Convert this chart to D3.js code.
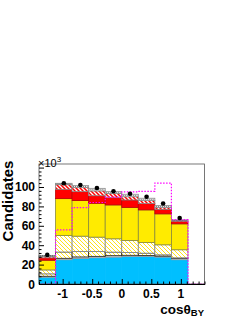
<html>
<head>
<script src="https://cdnjs.cloudflare.com/ajax/libs/d3/7.8.5/d3.min.js"></script>
<style>
  body { margin: 0; background: #fff; }
  text { font-family: "Liberation Sans", Arial, sans-serif; }
</style>
</head>
<body>
<svg width="245" height="317"></svg>
<script>
  // bin edges of cos(theta_BY), 10 bins
  const binEdges = [-1.4, -1.12, -0.84, -0.56, -0.28, 0, 0.28, 0.56, 0.84, 1.12, 1.4]
  // stacked components, units of 10^3 (bottom to top)
  const blue      = [7,   25,  26.4, 27,  27.7, 28.4, 28.4, 27.7, 25,  0]
  const grey      = [1,   1.5, 1.5,  1.5, 1.5,  1.2,  1,    1,    1.5, 0]
  const hatchLow  = [2.5, 6.5, 5.6,  5,   3.7,  2.9,  2.4,  1.4,  0.5, 0]
  const hatchHigh = [4,   17,  15.8, 14.8,13.7, 12.4, 11,   10.3, 8.3, 0]
  const yellow    = [10,  38,  36.7, 34.9,34.9, 34.1, 33.6, 31.9, 26.7,0]
  const red       = [2.5, 9.6, 9.2,  7.8, 7.5,  7.6,  6.5,  4.7,  2.7, 0]
  const redHatch  = [1.5, 4.8, 4.4,  5,   4.2,  3.4,  3.1,  2,    0.7, 0]
  const topBand   = [1,   1.4, 1.8,  2.6, 2,    2.5,  2.4,  1.8,  0.6, 0]
  const dataPts   = [30,  103.8, 102, 99, 95.6, 93,   90,   83,   68]
  const magenta   = [0,   55.7, 78.7, 84, 89.5, 95,   95.5, 104,  66.4, 0]
  const yTicks = [0, 20, 40, 60, 80, 100]
  const xTicks = [-1, -0.5, 0, 0.5, 1]

  const svg = d3.select('svg')
  const fLeft = 39, fRight = 204.5, fTop = 164, fBottom = 284
  const x = d3.scaleLinear().domain([-1.4, 1.4]).range([fLeft, fRight])
  const y = d3.scaleLinear().domain([0, 123.7]).range([fBottom, fTop])

  const defs = svg.append('defs')
  const hatch = (id, color, bg, w, s) => {
    const p = defs.append('pattern').attr('id', id).attr('patternUnits', 'userSpaceOnUse')
      .attr('width', s).attr('height', s)
    p.append('rect').attr('width', s).attr('height', s).attr('fill', bg)
    p.append('path').attr('d', `M-1,-1 L${s + 1},${s + 1} M-1,${s - 1} L1,${s + 1} M${s - 1},-1 L${s + 1},1`)
      .attr('stroke', color).attr('stroke-width', w)
  }
  hatch('yhatch', '#ffe000', '#fff', 0.9, 4)
  hatch('rhatch', '#ff0000', '#fff', 1.5, 4)

  const layers = [
    { v: blue, fill: '#00bfff', stroke: '#00bfff' },
    { v: grey, fill: '#d0d0d0', stroke: '#999' },
    { v: hatchLow, fill: 'url(#yhatch)', stroke: '#222' },
    { v: hatchHigh, fill: 'url(#yhatch)', stroke: '#888' },
    { v: yellow, fill: '#ffeb00', stroke: '#8a8a3a' },
    { v: red, fill: '#ff0000', stroke: '#b00' },
    { v: redHatch, fill: 'url(#rhatch)', stroke: '#888' },
    { v: topBand, fill: '#fff', stroke: '#888' }
  ]

  const bins = d3.range(binEdges.length - 1)
  const base = bins.map(() => 0)
  layers.forEach(L => {
    const g = svg.append('g')
    bins.forEach(i => {
      const lo = base[i], hi = base[i] + L.v[i]
      base[i] = hi
      if (L.v[i] <= 0) return
      g.append('rect')
        .attr('x', x(binEdges[i])).attr('width', x(binEdges[i + 1]) - x(binEdges[i]))
        .attr('y', y(hi)).attr('height', y(lo) - y(hi))
        .attr('fill', L.fill).attr('stroke', L.stroke).attr('stroke-width', 0.8)
    })
  })

  // dotted centre line in the top band
  const acc = bins.map(i => blue[i] + grey[i] + hatchLow[i] + hatchHigh[i] + yellow[i] + red[i] + redHatch[i])
  svg.append('g').selectAll('line').data(bins.filter(i => topBand[i] > 0)).join('line')
    .attr('x1', i => x(binEdges[i]) + 1).attr('x2', i => x(binEdges[i + 1]) - 1)
    .attr('y1', i => y(acc[i] + topBand[i] / 2)).attr('y2', i => y(acc[i] + topBand[i] / 2))
    .attr('stroke', '#333').attr('stroke-width', 0.7).attr('stroke-dasharray', '1,1')

  // magenta step histogram
  const stepPts = []
  bins.forEach(i => { stepPts.push([binEdges[i], magenta[i]]); stepPts.push([binEdges[i + 1], magenta[i]]) })
  stepPts.unshift([binEdges[0], 0])
  stepPts.push([binEdges[binEdges.length - 1], 0])
  svg.append('path')
    .attr('d', d3.line().x(d => x(d[0])).y(d => y(d[1]))(stepPts))
    .attr('fill', 'none').attr('stroke', '#ff00ff').attr('stroke-width', 1.2).attr('stroke-dasharray', '1.5,1.5')

  // data points
  svg.append('g').selectAll('circle').data(dataPts).join('circle')
    .attr('cx', (d, i) => x((binEdges[i] + binEdges[i + 1]) / 2)).attr('cy', d => y(d))
    .attr('r', 2.3).attr('fill', '#000')

  // frame
  svg.append('rect').attr('x', fLeft).attr('y', fTop).attr('width', fRight - fLeft).attr('height', fBottom - fTop)
    .attr('fill', 'none').attr('stroke', '#555').attr('stroke-width', 0.8)

  // y axis (ticks inside)
  const yAx = svg.append('g').attr('transform', `translate(${fLeft},0)`)
    .call(d3.axisLeft(y).tickValues(d3.range(0, 121, 4)).tickSize(-2.5).tickFormat(''))
  yAx.selectAll('.tick').filter(d => d % 20 === 0).select('line').attr('x2', 5)
  yAx.select('.domain').remove()
  yAx.selectAll('line').attr('stroke', '#000')
  svg.append('g').selectAll('text').data(yTicks).join('text')
    .attr('x', fLeft - 4).attr('y', d => y(d) + 4.5).attr('text-anchor', 'end')
    .attr('font-size', 12).attr('font-weight', 'bold').text(d => d)

  // x axis (ticks inside)
  const xAx = svg.append('g').attr('transform', `translate(0,${fBottom})`)
    .call(d3.axisBottom(x).tickValues(d3.range(-13, 14).map(d => d / 10)).tickSize(-2.5).tickFormat(''))
  xAx.selectAll('.tick').filter(d => Math.abs(d * 2 - Math.round(d * 2)) < 1e-6).select('line').attr('y2', -5)
  xAx.select('.domain').attr('stroke', '#000')
  xAx.selectAll('line').attr('stroke', '#000')
  svg.append('g').selectAll('text').data(xTicks).join('text')
    .attr('x', d => x(d)).attr('y', 297.5).attr('text-anchor', 'middle')
    .attr('font-size', 12).attr('font-weight', 'bold').text(d => d)

  // titles
  svg.append('text').attr('transform', 'translate(13,201) rotate(-90)').attr('text-anchor', 'middle')
    .attr('font-size', 15).attr('font-weight', 'bold').text('Candidates')
  const xt = svg.append('text').attr('x', 204).attr('y', 313.5).attr('text-anchor', 'end')
    .attr('font-size', 13.5).attr('font-weight', 'bold')
  xt.append('tspan').text('cos\u03b8')
  xt.append('tspan').attr('font-size', 9.5).attr('dy', 2.5).text('BY')
  const sc = svg.append('text').attr('x', 38).attr('y', 167).attr('font-size', 11)
  sc.append('tspan').text('\u00d710')
  sc.append('tspan').attr('font-size', 8).attr('dy', -5).text('3')
</script>
</body>
</html>
